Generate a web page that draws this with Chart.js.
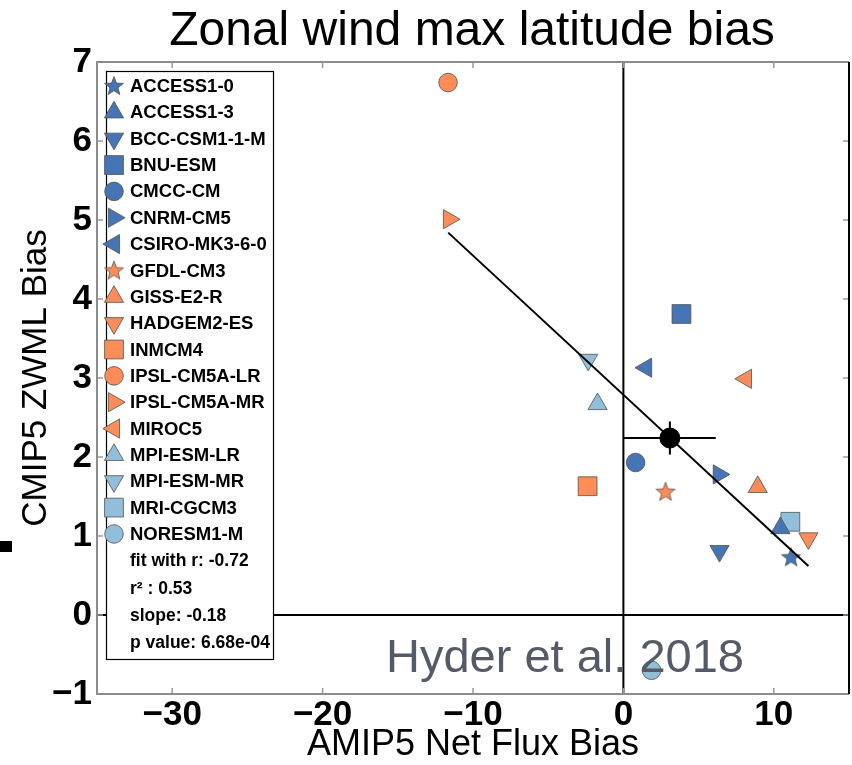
<!DOCTYPE html>
<html>
<head>
<meta charset="utf-8">
<script src="https://cdn.jsdelivr.net/npm/chart.js@4.4.1/dist/chart.umd.min.js"></script>
<style>
html, body { margin: 0; padding: 0; background: #fff; }
canvas { display: block; }
</style>
</head>
<body>
<canvas id="chart" width="852" height="765"></canvas>
<script>
const models = [
    "ACCESS1-0", "ACCESS1-3", "BCC-CSM1-1-M", "BNU-ESM", "CMCC-CM", "CNRM-CM5", "CSIRO-MK3-6-0",
    "GFDL-CM3", "GISS-E2-R", "HADGEM2-ES", "INMCM4", "IPSL-CM5A-LR", "IPSL-CM5A-MR", "MIROC5",
    "MPI-ESM-LR", "MPI-ESM-MR", "MRI-CGCM3", "NORESM1-M"
];
// AMIP5 net flux bias (x) and CMIP5 ZWML bias (y)
const netFluxBias = [11.15, 10.44, 6.39, 3.86, 0.81, 6.34, 1.51, 2.80, 8.93, 12.30, -2.38, -11.66, -11.60, 8.15, -1.72, -2.34, 11.10, 1.87];
const zwmlBias = [0.73, 1.10, 0.81, 3.81, 1.93, 1.78, 3.13, 1.56, 1.62, 0.97, 1.63, 6.74, 5.01, 2.99, 2.67, 3.23, 1.18, -0.70];
const markers = ["star", "up", "down", "square", "circle", "right", "left",
    "star", "up", "down", "square", "circle", "right", "left",
    "up", "down", "square", "circle"];
const colorGroups = [0, 0, 0, 0, 0, 0, 0, 1, 1, 1, 1, 1, 1, 1, 2, 2, 2, 2];

const fitX = [-11.65, 12.3];
const fitY = [4.84, 0.62];
const meanX = 3.09;
const meanY = 2.24;
const meanErrX = 3.05;
const meanErrY = 0.21;

const statsLines = ["fit with r: -0.72", "r\u00b2 : 0.53", "slope: -0.18", "p value: 6.68e-04"];
const xTickValues = [-30, -20, -10, 0, 10];
const yTickValues = [-1, 0, 1, 2, 3, 4, 5, 6, 7];

const palette = ["#4575b4", "#fc8d59", "#91bfdb"];
const edgeColor = "#505050";

function makeStar(fill) {
    const c = document.createElement('canvas');
    c.width = 22; c.height = 22;
    const g = c.getContext('2d');
    g.beginPath();
    for (let i = 0; i < 10; i++) {
        const r = i % 2 === 0 ? 10 : 4.2;
        const a = -Math.PI / 2 + i * Math.PI / 5;
        g.lineTo(11 + r * Math.cos(a), 11.5 + r * Math.sin(a));
    }
    g.closePath();
    g.fillStyle = fill;
    g.fill();
    g.lineWidth = 0.8;
    g.strokeStyle = edgeColor;
    g.stroke();
    return c;
}
const stars = palette.map(makeStar);

function markerStyle(m, group) {
    switch (m) {
        case 'star': return { pointStyle: stars[group], radius: 10, rotation: 0 };
        case 'up': return { pointStyle: 'triangle', radius: 11.1, rotation: 0 };
        case 'down': return { pointStyle: 'triangle', radius: 11.1, rotation: 180 };
        case 'right': return { pointStyle: 'triangle', radius: 11.1, rotation: 90 };
        case 'left': return { pointStyle: 'triangle', radius: 11.1, rotation: -90 };
        case 'square': return { pointStyle: 'rect', radius: 13.3, rotation: 0 };
        default: return { pointStyle: 'circle', radius: 9.3, rotation: 0 };
    }
}

const modelDatasets = models.map((name, i) => {
    const s = markerStyle(markers[i], colorGroups[i]);
    return {
        label: name,
        data: [{ x: netFluxBias[i], y: zwmlBias[i] }],
        pointStyle: s.pointStyle,
        pointRadius: s.radius,
        rotation: s.rotation,
        backgroundColor: palette[colorGroups[i]],
        borderColor: edgeColor,
        borderWidth: 0.8,
        order: 2
    };
});

function lineSet(points, width) {
    return {
        label: '',
        data: points,
        showLine: true,
        pointRadius: 0,
        borderColor: '#000',
        borderWidth: width,
        order: 1
    };
}

const datasets = [
    lineSet([{ x: 0, y: -1 }, { x: 0, y: 7 }], 2),
    lineSet([{ x: -35, y: 0 }, { x: 15, y: 0 }], 2),
    lineSet(fitX.map((x, i) => ({ x: x, y: fitY[i] })), 2),
    lineSet([{ x: meanX - meanErrX, y: meanY }, { x: meanX + meanErrX, y: meanY }], 2),
    lineSet([{ x: meanX, y: meanY - meanErrY }, { x: meanX, y: meanY + meanErrY }], 2),
    {
        label: 'mean',
        data: [{ x: meanX, y: meanY }],
        pointRadius: 10,
        backgroundColor: '#000',
        borderColor: '#000',
        order: 0
    },
    ...modelDatasets
];

function fmt(v) {
    return v < 0 ? '\u2212' + Math.abs(v) : String(v);
}

const tickFont = { family: '"Liberation Sans", Arial', size: 35, weight: 'bold', lineHeight: 1 };
const axisTitleFont = { family: '"Liberation Sans", Arial', size: 36, lineHeight: 1.1 };

// frame, inner ticks, legend box, title and note
const decorPlugin = {
    id: 'decor',
    afterDatasetsDraw(chart) {
        const ctx = chart.ctx;
        const a = chart.chartArea;
        const xs = chart.scales.x, ys = chart.scales.y;
        ctx.save();

        // inner tick marks
        ctx.strokeStyle = '#9a9a9a';
        ctx.lineWidth = 1.5;
        ctx.beginPath();
        xTickValues.forEach(v => {
            const px = xs.getPixelForValue(v);
            ctx.moveTo(px, a.top); ctx.lineTo(px, a.top + 6);
            ctx.moveTo(px, a.bottom); ctx.lineTo(px, a.bottom - 6);
        });
        yTickValues.forEach(v => {
            const py = ys.getPixelForValue(v);
            ctx.moveTo(a.left, py); ctx.lineTo(a.left + 6, py);
            ctx.moveTo(a.right, py); ctx.lineTo(a.right - 6, py);
        });
        ctx.stroke();

        // frame
        ctx.strokeStyle = '#8c8c8c';
        ctx.lineWidth = 2;
        ctx.beginPath();
        ctx.moveTo(a.right, a.top); ctx.lineTo(a.left, a.top);
        ctx.lineTo(a.left, a.bottom); ctx.lineTo(a.right, a.bottom);
        ctx.stroke();
        ctx.strokeStyle = '#000';
        ctx.beginPath();
        ctx.moveTo(a.right, a.top); ctx.lineTo(a.right, a.bottom);
        ctx.stroke();

        // note
        ctx.fillStyle = '#555b66';
        ctx.font = '47px "Liberation Sans", Arial';
        ctx.textAlign = 'left';
        ctx.textBaseline = 'alphabetic';
        ctx.fillText('Hyder et al. 2018', 386, 672);

        // legend
        const lx = 106.5, ly = 71.5, lw = 167, lh = 588;
        ctx.fillStyle = '#fff';
        ctx.fillRect(lx, ly, lw, lh);
        ctx.strokeStyle = '#000';
        ctx.lineWidth = 1.2;
        ctx.strokeRect(lx, ly, lw, lh);

        ctx.fillStyle = '#000';
        ctx.textBaseline = 'middle';
        ctx.font = 'bold 18.5px "Liberation Sans", Arial';
        const step = 26.35;
        models.forEach((name, i) => {
            const y = 86 + i * step;
            const s = markerStyle(markers[i], colorGroups[i]);
            ctx.fillStyle = palette[colorGroups[i]];
            ctx.strokeStyle = edgeColor;
            ctx.lineWidth = 0.8;
            Chart.helpers.drawPoint(ctx, {
                pointStyle: s.pointStyle,
                radius: s.radius,
                rotation: s.rotation,
                borderWidth: 0.8
            }, 114, y);
            ctx.fillStyle = '#000';
            ctx.fillText(name, 130, y + 1);
        });
        ctx.font = 'bold 17.5px "Liberation Sans", Arial';
        statsLines.forEach((t, i) => {
            ctx.fillText(t, 130, 561.5 + i * 27.2);
        });

        // title
        ctx.font = '48px "Liberation Sans", Arial';
        ctx.textAlign = 'center';
        ctx.textBaseline = 'alphabetic';
        ctx.fillText('Zonal wind max latitude bias', 472, 45);

        // small dark mark at the left edge of the figure
        ctx.fillRect(0, 541, 12, 11);
        ctx.restore();
    }
};

const ctx = document.getElementById('chart').getContext('2d');
const chart = new Chart(ctx, {
    type: 'scatter',
    data: { datasets },
    options: {
        responsive: false,
        animation: false,
        layout: { autoPadding: false, padding: { top: 62, right: 3, left: 0, bottom: 0 } },
        plugins: {
            legend: { display: false },
            tooltip: { enabled: false }
        },
        scales: {
            x: {
                type: 'linear',
                min: -35,
                max: 15,
                afterBuildTicks: axis => { axis.ticks = xTickValues.map(v => ({ value: v })); },
                afterFit: axis => {
                    axis.height = 71;
                    axis.paddingLeft = 0;
                    axis.paddingRight = 0;
                },
                ticks: { font: tickFont, color: '#000', padding: 4, autoSkip: false, maxRotation: 0, callback: fmt },
                grid: { display: false, drawTicks: false },
                border: { display: false },
                title: {
                    display: true,
                    text: 'AMIP5 Net Flux Bias',
                    color: '#000',
                    font: axisTitleFont,
                    padding: 0
                }
            },
            y: {
                type: 'linear',
                min: -1,
                max: 7,
                afterBuildTicks: axis => { axis.ticks = yTickValues.map(v => ({ value: v })); },
                afterFit: axis => {
                    axis.width = 97;
                    axis.paddingTop = 0;
                    axis.paddingBottom = 0;
                },
                ticks: { font: tickFont, color: '#000', padding: 5, autoSkip: false, callback: fmt },
                grid: { display: false, drawTicks: false },
                border: { display: false },
                title: {
                    display: true,
                    text: 'CMIP5 ZWML Bias',
                    color: '#000',
                    font: { family: '"Liberation Sans", Arial', size: 35, lineHeight: 1.1 },
                    padding: { top: 17 }
                }
            }
        }
    },
    plugins: [decorPlugin]
});
</script>
</body>
</html>
